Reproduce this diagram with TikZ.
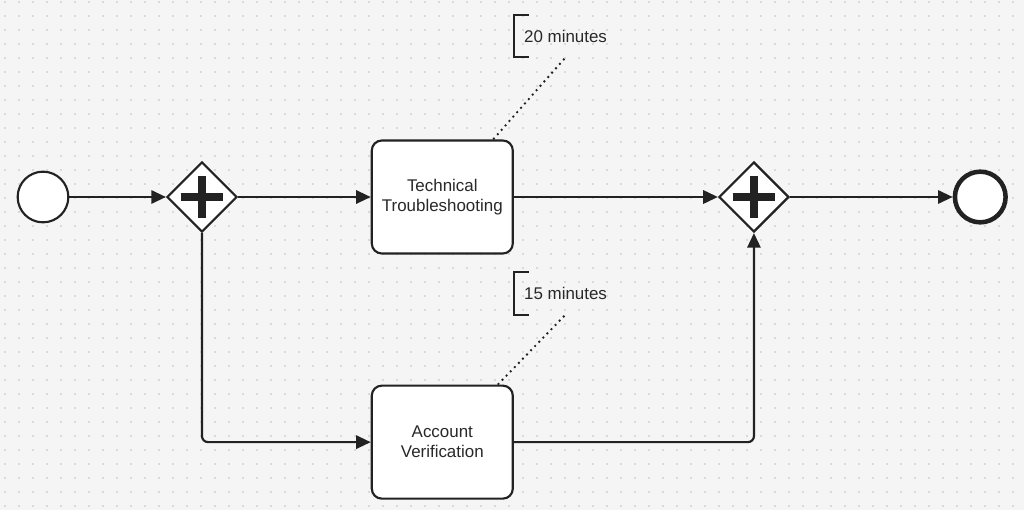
\documentclass[tikz,border=0pt]{standalone}
\usepackage{fontspec}
\setmainfont{Liberation Sans}
\usepackage{tikz}
\usetikzlibrary{positioning, arrows.meta, shapes.geometric}

\definecolor{canvasbg}{RGB}{245,245,245}
\definecolor{griddot}{RGB}{190,190,190}
\definecolor{inkline}{RGB}{34,34,34}
\definecolor{inktext}{RGB}{40,40,40}

\begin{document}
\begin{tikzpicture}[
        x=0.75pt, y=-0.75pt,
        >={Triangle[length=11pt, width=10pt]},
        every node/.style={font=\fontsize{12.7}{15}\selectfont, align=center, text=inktext},
        startev/.style={circle, draw=inkline, line width=1.6pt, fill=white, minimum size=38pt, inner sep=0pt},
        endev/.style={circle, draw=inkline, line width=3.4pt, fill=white, minimum size=38pt, inner sep=0pt},
        task/.style={draw=inkline, line width=1.6pt, rounded corners=7.5pt, fill=white, minimum width=105.75pt, minimum height=84.75pt, inner sep=2pt},
        parallel/.style={diamond, draw=inkline, line width=1.6pt, fill=white, minimum size=52.5pt, inner sep=0pt,
            path picture={
                \draw[inkline, line width=5.5pt] ([xshift=-16pt]path picture bounding box.center) -- ([xshift=16pt]path picture bounding box.center);
                \draw[inkline, line width=5.5pt] ([yshift=-16pt]path picture bounding box.center) -- ([yshift=16pt]path picture bounding box.center);
            }},
        annot/.style={minimum height=31.5pt, inner xsep=7.5pt, inner ysep=0pt},
        bracket/.style={draw=inkline, line width=1.6pt},
        flow/.style={->, draw=inkline, line width=1.6pt},
        assoc/.style={draw=inkline, line width=2pt, line cap=round, dash pattern=on 0pt off 4.4pt}
    ]
        % canvas with dot grid
        \useasboundingbox (0,0) rectangle (1024,510);
        \fill[canvasbg] (0,0) rectangle (1024,510);
        \foreach \x in {5,19,...,1019}
            \foreach \y in {2,16,...,508}
                \fill[griddot] (\x,\y) circle (0.9);

        \node[startev] (start) at (43,197) {};
        \node[parallel, right=72.4pt of start] (split) {};
        \node[task, right=99.5pt of split] (tech) {Technical\\Troubleshooting};
        \node[parallel, right=153pt of tech] (join) {};
        \node[endev, right=122pt of join] (finish) {};
        \node[task, below=97.5pt of tech] (acct) {Account\\Verification};

        \node[annot, above right=61.5pt and 0pt of tech.north east, anchor=south west] (note1) {20 minutes};
        \node[annot, above right=52.5pt and 0pt of acct.north east, anchor=south west] (note2) {15 minutes};
        \draw[bracket] ([xshift=11pt]note1.north west) -- (note1.north west) -- (note1.south west) -- ([xshift=11pt]note1.south west);
        \draw[bracket] ([xshift=11pt]note2.north west) -- (note2.north west) -- (note2.south west) -- ([xshift=11pt]note2.south west);

        \draw[flow] (start) -- (split);
        \draw[flow] (split) -- (tech);
        \draw[flow] (tech) -- (join);
        \draw[flow] (join) -- (finish);
        \draw[flow, rounded corners=4.5pt] (split.south) |- (acct);
        \draw[flow, rounded corners=4.5pt] (acct) -| (join.south);

        \draw[assoc, shorten <=2pt] (note1.south) -- (tech);
        \draw[assoc, shorten <=2pt] (note2.south) -- (acct);
    \end{tikzpicture}
\end{document}
